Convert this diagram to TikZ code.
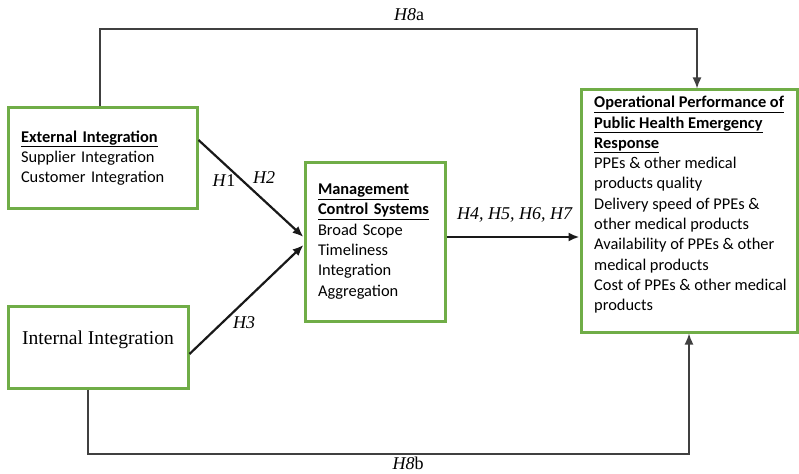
\documentclass[tikz,border=0pt]{standalone}
\usepackage{fontspec}
\setmainfont{Liberation Serif}
\newfontfamily\calib{Carlito}
\usetikzlibrary{arrows.meta,calc}
\definecolor{boxgreen}{RGB}{112,173,71}
\tikzset{
  gbox/.style={draw=boxgreen, line width=3pt, inner xsep=13pt, inner ysep=0pt,
    align=left, font=\calib\fontsize{16.4}{20.3}\selectfont},
  arr/.style={line width=2.2pt, draw=black!90, -{Latex[length=11pt,width=9pt]}},
  rail/.style={line width=1.6pt, draw=black!75},
  railarr/.style={rail, -{Latex[length=11pt,width=9pt]}},
  hlab/.style={font=\fontsize{18}{20}\selectfont, inner sep=1pt}
}
\begin{document}
\begin{tikzpicture}[x=1pt,y=-1pt]
\useasboundingbox (0,0) rectangle (799,473);
% boxes
\node[gbox, minimum width=189pt, minimum height=100pt, text width=163pt] (ext) at (102.5,158)
  {\textbf{\underline{External Integration}}\\Supplier Integration\\Customer Integration};
\node[draw=boxgreen, line width=3pt, minimum width=180pt, minimum height=82pt, inner sep=0pt] (int) at (98,347) {};
\node[font=\fontsize{19.6}{22}\selectfont] (inttext) at (98,340) {Internal Integration};
\node[gbox, minimum width=140pt, minimum height=159pt, text width=114pt] (mcs) at (375,241.5)
  {\textbf{\underline{Management}}\\\textbf{\underline{Control Systems}}\\Broad Scope\\Timeliness\\Integration\\Aggregation};
\node[draw=boxgreen, line width=3pt, minimum width=216pt, minimum height=242pt, inner sep=0pt] (opp) at (689,211) {};
\node[anchor=north west, inner sep=0pt, align=left, font=\calib\fontsize{16.4}{20.3}\selectfont] (opptext) at (594,96)
  {\textbf{\underline{Operational Performance of}}\\\textbf{\underline{Public Health Emergency}}\\\textbf{\underline{Response}}\\PPEs \& other medical\\products quality\\Delivery speed of PPEs \&\\other medical products\\Availability of PPEs \& other\\medical products\\Cost of PPEs \& other medical\\products};
% rails
\coordinate (toprail) at (0,29);
\coordinate (botrail) at (0,454);
\draw[railarr] ([xshift=-2.5pt]ext.north) |- ([xshift=8pt]opp.north |- toprail) -- ([xshift=8pt]opp.north);
\draw[railarr] ([xshift=-10pt]int.south) |- (opp.south |- botrail) -- (opp.south);
% arrows
\draw[arr] ([yshift=18pt]ext.east) -- ([yshift=4.5pt]mcs.west);
\draw[arr] ([yshift=-7pt]int.east) -- ([yshift=-3.5pt]mcs.west);
\draw[arr] ([yshift=4.5pt]mcs.east) -- ([yshift=4.5pt]mcs.east -| opp.west);
% labels
\node[hlab] (h8a) at (409,15) {\textit{H8}a};
\node[hlab] (h8b) at (408,463) {\textit{H8}b};
\node[hlab] (h1) at (224,181) {\textit{H}1};
\node[hlab] (h2) at (264,178) {\textit{H2}};
\node[hlab] (h3) at (244,323) {\textit{H3}};
\node[hlab] (h47) at (515,215) {\textit{H4, H5, H6, H7}};
\end{tikzpicture}
\end{document}
